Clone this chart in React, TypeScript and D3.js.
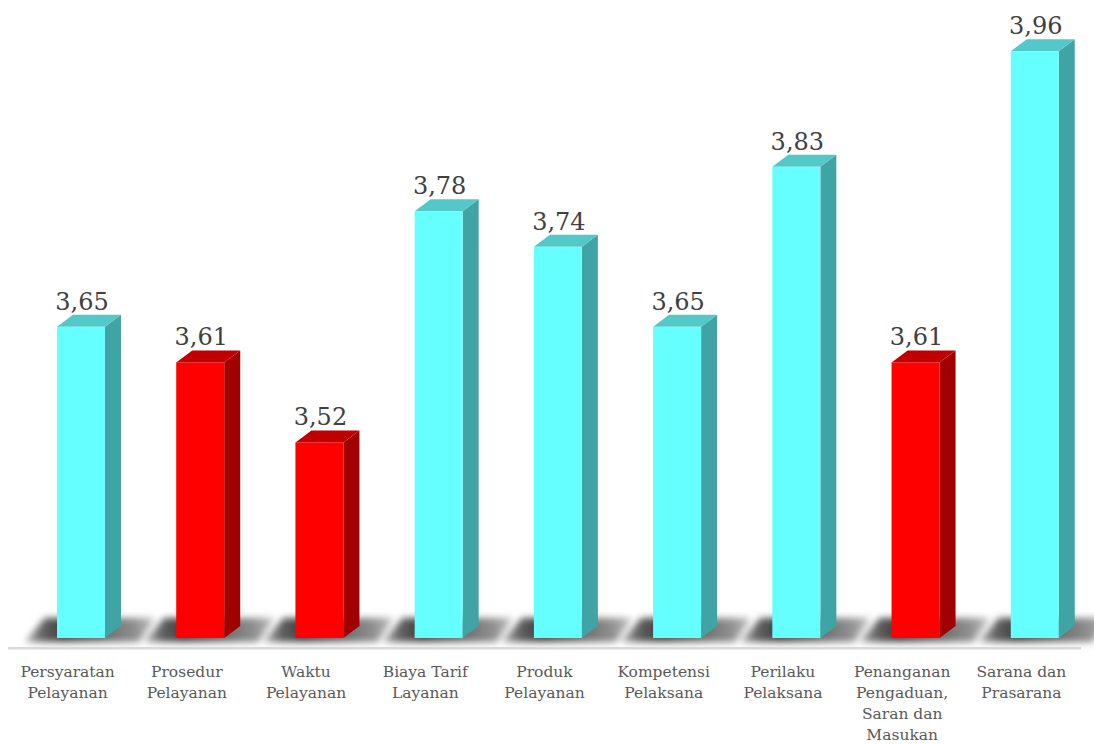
import React from "react";
import * as d3 from "d3";

const categories = [
  "Persyaratan Pelayanan",
  "Prosedur Pelayanan",
  "Waktu Pelayanan",
  "Biaya Tarif Layanan",
  "Produk Pelayanan",
  "Kompetensi Pelaksana",
  "Perilaku Pelaksana",
  "Penanganan Pengaduan, Saran dan Masukan",
  "Sarana dan Prasarana",
];
const values = [3.65, 3.61, 3.52, 3.78, 3.74, 3.65, 3.83, 3.61, 3.96];
const highlight = [false, true, true, false, false, false, false, true, false];
const valueDomain = [3.3, 4.0];

const W = 1094;
const H = 744;

const palette = {
  normal: { front: "#66FFFF", top: "#52C8C8", side: "#40A4A4" },
  low: { front: "#FF0000", top: "#C00000", side: "#A00000" },
};

function wrap(text: string, maxChars: number): string[] {
  const words = text.split(" ");
  const lines: string[] = [];
  let cur = "";
  for (const w of words) {
    const cand = cur ? cur + " " + w : w;
    if (cand.length <= maxChars) cur = cand;
    else {
      if (cur) lines.push(cur);
      cur = w;
    }
  }
  if (cur) lines.push(cur);
  return lines;
}

export default function App() {
  const x = d3.scaleBand<string>().domain(categories).range([8, 1081]).padding(0);
  const baseY = 638;
  const y = d3.scaleLinear().domain(valueDomain).range([baseY, baseY - 0.7 * 889]);
  const bw = x.bandwidth();
  const barW = 48;
  const dx = 16;
  const dy = 12;
  const offset = 49 - bw / 2; // perspective shift relative to band center

  return (
    <svg width={W} height={H} style={{ position: "absolute", left: 0, top: 0, background: "#fff" }}>
      <defs>
        <filter id="blur" x="-50%" y="-100%" width="200%" height="300%">
          <feGaussianBlur stdDeviation="3.5" />
        </filter>
        <linearGradient id="shadowGrad" x1="0" x2="1" y1="0" y2="0">
          <stop offset="0" stopColor="#b0b0b0" />
          <stop offset="0.14" stopColor="#606060" />
          <stop offset="0.3" stopColor="#404040" />
          <stop offset="0.6" stopColor="#6a6a6a" />
          <stop offset="0.85" stopColor="#909090" />
          <stop offset="1" stopColor="#c0c0c0" />
        </linearGradient>
      </defs>
      {/* floor shadows */}
      <g filter="url(#blur)">
        {categories.map((c) => {
          const x0 = (x(c) as number) + bw / 2 + offset;
          const pts = [
            [x0 - 32, 642],
            [x0 - 12, 618],
            [x0 + 98, 618],
            [x0 + 82, 642],
          ];
          return <polygon key={c} points={pts.map((p) => p.join(",")).join(" ")} fill="url(#shadowGrad)" />;
        })}
      </g>
      {/* floor edge */}
      <rect x={8} y={647} width={1073} height={2.5} fill="#d9d9d9" />
      {/* bars */}
      {categories.map((c, i) => {
        const col = highlight[i] ? palette.low : palette.normal;
        const x0 = (x(c) as number) + bw / 2 + offset;
        const yt = y(values[i]);
        const x1 = x0 + barW;
        const top = `${x0},${yt} ${x0 + dx},${yt - dy} ${x1 + dx},${yt - dy} ${x1},${yt}`;
        const side = `${x1},${yt} ${x1 + dx},${yt - dy} ${x1 + dx},${baseY - dy} ${x1},${baseY}`;
        return (
          <g key={c}>
            <polygon points={side} fill={col.side} />
            <polygon points={top} fill={col.top} />
            <rect x={x0} y={yt} width={barW} height={baseY - yt} fill={col.front} />
            <text
              x={x0 + barW / 2 + 1}
              y={yt - 17}
              textAnchor="middle"
              fontFamily="'DejaVu Serif', serif"
              fontSize={24}
              fill="#404040"
            >
              {values[i].toFixed(2).replace(".", ",")}
            </text>
          </g>
        );
      })}
      {/* category labels */}
      {categories.map((c) => {
        const cx = (x(c) as number) + bw / 2;
        const lines = wrap(c, 11);
        return (
          <text
            key={c}
            x={cx}
            y={677}
            textAnchor="middle"
            fontFamily="'DejaVu Serif', serif"
            fontSize={15.5}
            fill="#595959"
          >
            {lines.map((l, k) => (
              <tspan key={k} x={cx} dy={k === 0 ? 0 : 21}>
                {l}
              </tspan>
            ))}
          </text>
        );
      })}
    </svg>
  );
}
